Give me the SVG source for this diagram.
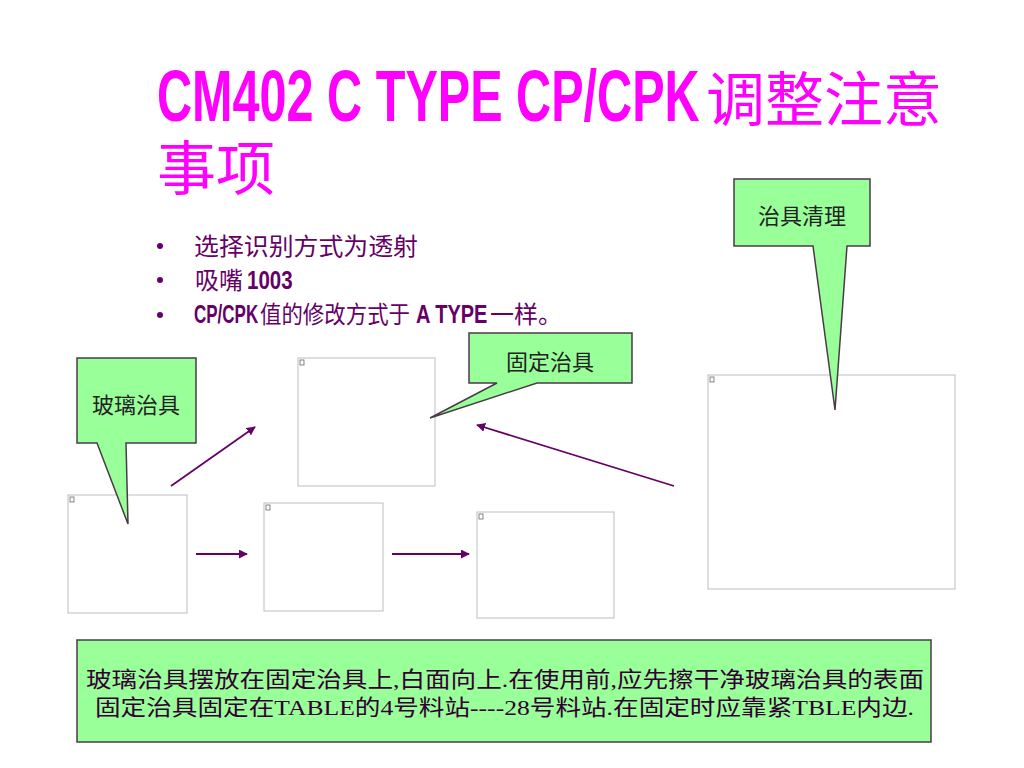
<svg xmlns="http://www.w3.org/2000/svg" width="1024" height="768" viewBox="0 0 1024 768">
<defs>
<style>
.title{fill:#FF00FF;font-family:"Liberation Sans","Noto Sans CJK SC",sans-serif;font-weight:bold;font-size:72px}
.titlecjk{fill:#FF00FF;font-family:"Liberation Serif","Noto Sans CJK SC",serif;font-size:59px}
.bul{fill:#660066;font-family:"Liberation Serif","Noto Sans CJK SC",serif;font-size:24px}
.bulb{fill:#660066;font-family:"Liberation Sans","Noto Sans CJK SC",sans-serif;font-weight:bold;font-size:25px}
.call{fill:#99FF99;stroke:#4a3a4a;stroke-width:1.5}
.ctext{fill:#222;font-family:"Liberation Serif","Noto Sans CJK SC",serif;font-size:22px;text-anchor:middle}
.img{fill:#fff;stroke:#bdbdbd;stroke-width:1}
.ico{fill:#fff;stroke:#666;stroke-width:0.8}
.conn{stroke:#660066;stroke-width:1.8;fill:none;marker-end:url(#ah)}
.btext{fill:#330033;font-family:"Liberation Serif","Noto Sans CJK SC",serif;font-size:22px}
</style>
<marker id="ah" viewBox="0 0 10 10" refX="9" refY="5" markerWidth="5" markerHeight="5" orient="auto" markerUnits="strokeWidth">
<path d="M0,0 L10,5 L0,10 z" fill="#660066"/>
</marker>
</defs>
<rect width="1024" height="768" fill="#fff"/>

<g id="title">
<text class="title" transform="translate(157,121) scale(0.675,1)" x="0" y="0">CM402 C TYPE CP/CPK</text>
<text class="titlecjk" x="706" y="121">调整注意</text>
<text class="titlecjk" x="157" y="190">事项</text>
</g>

<g id="bullets">
<circle cx="160" cy="246" r="3" fill="#660066"/>
<text class="bul" x="194" y="255" font-size="25" textLength="224" lengthAdjust="spacingAndGlyphs">选择识别方式为透射</text>
<circle cx="160" cy="280" r="3" fill="#660066"/>
<text class="bul" x="195" y="289" font-size="25">吸嘴</text>
<text class="bulb" transform="translate(247,289) scale(0.82,1)" x="0" y="0">1003</text>
<circle cx="160" cy="315" r="3" fill="#660066"/>
<text class="bulb" transform="translate(194,323) scale(0.68,1)" x="0" y="0">CP/CPK</text>
<text class="bul" x="260" y="323" font-size="21" textLength="150" lengthAdjust="spacingAndGlyphs">值的修改方式于</text>
<text class="bulb" transform="translate(416,323) scale(0.8,1)" x="0" y="0">A TYPE</text>
<text class="bul" x="490" y="323" font-size="24">一样。</text>
</g>

<g id="img1"><rect class="img" x="68" y="495" width="119" height="118"/><rect class="ico" x="70" y="497" width="4" height="5"/></g>
<g id="img2"><rect class="img" x="264" y="503" width="119" height="108"/><rect class="ico" x="266" y="505" width="4" height="5"/></g>
<g id="img3"><rect class="img" x="477" y="512" width="137" height="106"/><rect class="ico" x="479" y="514" width="4" height="5"/></g>
<g id="img4"><rect class="img" x="298" y="358" width="137" height="128"/><rect class="ico" x="300" y="360" width="4" height="5"/></g>
<g id="img5"><rect class="img" x="708" y="375" width="247" height="214"/><rect class="ico" x="710" y="377" width="4" height="5"/></g>

<g id="connectors">
<line class="conn" x1="171" y1="486" x2="255" y2="427"/>
<line class="conn" x1="196" y1="554" x2="247" y2="554"/>
<line class="conn" x1="392" y1="554" x2="469" y2="554"/>
<line class="conn" x1="674" y1="486" x2="477" y2="425"/>
</g>

<g id="callout-glass">
<path class="call" d="M77,358 H196 V443 H126 L128,524 L97,443 H77 Z"/>
<text class="ctext" x="136" y="413">玻璃治具</text>
</g>
<g id="callout-fixed">
<path class="call" d="M469,333 H632 V383 H537 L430,418 L497,383 H469 Z"/>
<text class="ctext" x="550" y="370">固定治具</text>
</g>
<g id="callout-clean">
<path class="call" d="M734,179 H870 V246 H847 L835,410 L813,246 H734 Z"/>
<text class="ctext" x="802" y="224">治具清理</text>
</g>

<g id="note">
<rect class="call" x="77" y="640" width="854" height="102"/>
<text class="btext" x="86" y="687" textLength="838" lengthAdjust="spacingAndGlyphs">玻璃治具摆放在固定治具上,白面向上.在使用前,应先擦干净玻璃治具的表面</text>
<text class="btext" x="95" y="715" textLength="819" lengthAdjust="spacingAndGlyphs">固定治具固定在TABLE的4号料站----28号料站.在固定时应靠紧TBLE内边.</text>
</g>
</svg>
